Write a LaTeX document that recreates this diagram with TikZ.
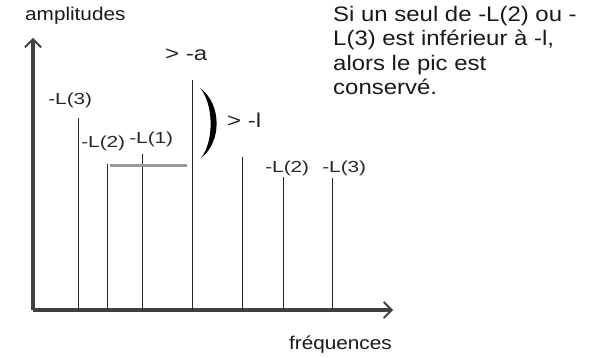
\documentclass[tikz,border=0pt]{standalone}
\usepackage{fontspec}
\setmainfont{Liberation Sans}
\usetikzlibrary{arrows.meta}
\begin{document}
\begin{tikzpicture}[x=1pt,y=-1pt,
  lbl/.style={font=\fontsize{16}{18}\selectfont, xscale=1.3, inner sep=0pt, anchor=west, text=black!85},
  cmp/.style={font=\fontsize{20}{22}\selectfont, xscale=1.2, inner sep=0pt, anchor=west, text=black!85},
  axl/.style={font=\fontsize{18.5}{20}\selectfont, xscale=1.12, inner sep=0pt, anchor=west, text=black!90},
  txt/.style={font=\fontsize{21}{24.5}\selectfont, xscale=1.14, inner sep=0pt, align=left, anchor=north west, text=black!90},
  axis/.style={line width=3.2pt, draw=black!75, -{Straight Barb[length=8pt,width=16pt,line width=1.8pt]}},
  peak/.style={line width=1pt, draw=black!85},
  graybar/.style={line width=3pt, draw=black!40}]
\useasboundingbox (0,0) rectangle (590,358);
% axes
\coordinate (O) at (33,310);
\coordinate (Ytop) at (33,38);
\coordinate (Xend) at (393,310);
\draw[axis] (O) -- (Ytop);
\draw[axis] (O) -- (Xend);
% peaks
\foreach \n/\x/\t in {p1/78/118, p2/107/164, p3/142/154, p4/192/80, p5/242/157, p6/283/177, p7/332/178}{
  \coordinate (\n b) at (\x,310);
  \coordinate (\n t) at (\x,\t);
  \draw[peak] (\n b) -- (\n t);
}
% gray level bar
\coordinate (g1) at (110,166);
\coordinate (g2) at (187,166);
\draw[graybar] (g1) -- (g2);
% big parenthesis
\fill[black] (200,88) .. controls (222,104) and (222,142) .. (201,158)
  .. controls (214,142) and (214,104) .. (200,88) -- cycle;
% labels
\node[axl] (amp) at (25,16) {amplitudes};
\node[cmp] (la) at (165,55) {> -a};
\node[lbl] (l3a) at (48,100) {-L(3)};
\node[lbl] (l2a) at (81,143) {-L(2)};
\node[lbl] (l1a) at (129,139) {-L(1)};
\node[cmp] (ll) at (227,120) {> -l};
\node[lbl] (l2b) at (265,168) {-L(2)};
\node[lbl] (l3b) at (322,168) {-L(3)};
\node[axl] (freq) at (289,345) {fréquences};
\node[txt] (note) at (333,6) {Si un seul de -L(2) ou -\\L(3) est inférieur à -l,\\alors le pic est\\conservé.};
\end{tikzpicture}
\end{document}
